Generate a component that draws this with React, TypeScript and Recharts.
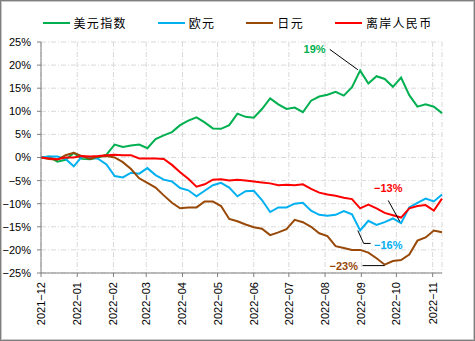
import React from "react";
import {
  LineChart,
  Line,
  XAxis,
  YAxis,
  CartesianGrid,
  Legend,
  ReferenceLine,
  ReferenceDot,
} from "recharts";

const dates = [
  "2021-12-01", "2021-12-08", "2021-12-15", "2021-12-22", "2021-12-29",
  "2022-01-05", "2022-01-12", "2022-01-19", "2022-01-26",
  "2022-02-02", "2022-02-09", "2022-02-16", "2022-02-23",
  "2022-03-02", "2022-03-09", "2022-03-16", "2022-03-23", "2022-03-30",
  "2022-04-06", "2022-04-13", "2022-04-20", "2022-04-27",
  "2022-05-04", "2022-05-11", "2022-05-18", "2022-05-25",
  "2022-06-01", "2022-06-08", "2022-06-15", "2022-06-22", "2022-06-29",
  "2022-07-06", "2022-07-13", "2022-07-20", "2022-07-27",
  "2022-08-03", "2022-08-10", "2022-08-17", "2022-08-24", "2022-08-31",
  "2022-09-07", "2022-09-14", "2022-09-21", "2022-09-28",
  "2022-10-05", "2022-10-12", "2022-10-19", "2022-10-26",
  "2022-11-02", "2022-11-09",
];

const usdIndex = [
  0, 0.2, -0.9, -0.5, 1.0,
  -0.3, -0.4, 0, 0.6,
  2.8, 2.3, 2.6, 2.8,
  2.0, 4.0, 4.8, 5.5, 7.0,
  8.0, 8.7, 7.6, 6.3,
  6.2, 7.0, 9.5, 8.8,
  8.6, 10.5, 12.8, 11.5, 10.5,
  10.8, 9.8, 12.3, 13.2,
  13.6, 14.2, 13.4, 15.2, 18.8,
  16.0, 17.6, 17.0, 15.3,
  17.3, 13.5, 11.0, 11.5,
  11.0, 9.6,
];

const euro = [
  0, 0.2, 0.2, -0.3, -1.9,
  0.2, 0, -0.3, -1.5,
  -4.0, -4.3, -3.3, -3.5,
  -2.3, -3.8, -4.8, -5.2, -6.6,
  -7.1, -8.4, -7.2, -6.0,
  -5.5, -6.5, -8.4, -7.3,
  -7.2, -9.2, -11.8, -10.8, -10.8,
  -10.0, -9.8, -11.5, -12.4,
  -12.6, -12.4, -11.6, -12.3, -15.8,
  -13.7, -14.6, -14.0, -13.2,
  -14.2, -10.8, -9.8, -8.9,
  -9.5, -8.0,
];

const yen = [
  0, -0.3, -0.5, 0.5, 1.0,
  0.3, -0.3, 0.2, 0.3,
  0, -1.0, -2.5, -4.5,
  -5.5, -6.5, -8.2, -9.8, -11.0,
  -10.8, -10.8, -9.5, -9.5,
  -10.5, -13.3, -13.8, -14.5,
  -15.1, -15.4, -16.8, -16.2, -15.5,
  -13.5, -14.0, -15.0, -16.4,
  -17.0, -19.2, -19.6, -20.0, -20.0,
  -20.6, -21.8, -23.2, -22.4,
  -22.2, -21.0, -18.0, -17.3,
  -15.8, -16.2,
];

const cnh = [
  0, -0.2, -0.4, 0, 0,
  0.3, 0.2, 0.3, 0.5,
  0.6, 0.5, 0.5, -0.2,
  -0.2, -0.2, -0.3, -1.6, -3.2,
  -4.6, -6.3, -5.8, -4.8,
  -4.7, -5.0, -4.8, -5.0,
  -5.2, -5.4, -5.6, -6.0, -5.9,
  -6.0, -5.8, -6.8, -7.6,
  -8.0, -8.3, -8.7, -9.0, -11.0,
  -10.2, -11.0, -12.0, -12.5,
  -13.0, -11.0, -10.5, -10.3,
  -11.5, -8.9,
];

const monthTicks = [
  "2021-12-01", "2022-01-01", "2022-02-01", "2022-03-01", "2022-04-01",
  "2022-05-01", "2022-06-01", "2022-07-01", "2022-08-01", "2022-09-01",
  "2022-10-01", "2022-11-01",
];

const yTicks = [-25, -20, -15, -10, -5, 0, 5, 10, 15, 20, 25];

const seriesNames = ["美元指数", "欧元", "日元", "离岸人民币"];
const seriesKeys = ["usd", "eur", "jpy", "cnh"];
const seriesColors = ["#00B050", "#00B0F0", "#984807", "#FF0000"];

const ts = (s: string) => Date.parse(s + "T00:00:00Z");

const data = dates.map((d, i) => ({
  t: ts(d),
  usd: usdIndex[i],
  eur: euro[i],
  jpy: yen[i],
  cnh: cnh[i],
}));

const MINUS = "\u2212";

const fmtPct = (v: number) => (v < 0 ? MINUS + Math.abs(v) : String(v)) + "%";

const fmtMonth = (t: number) => {
  const d = new Date(t);
  const y = d.getUTCFullYear();
  const m = String(d.getUTCMonth() + 1).padStart(2, "0");
  return `${y}${MINUS}${m}`;
};

const XTick = (props: any) => {
  const { x, y, payload } = props;
  return (
    <text
      transform={`translate(${x + 4},${y + 3}) rotate(-90)`}
      textAnchor="end"
      fontSize={11}
      fontFamily="'Liberation Sans', Arial, sans-serif"
      fill="#000"
    >
      {fmtMonth(payload.value)}
    </text>
  );
};

const LegendContent = () => (
  <div
    style={{
      display: "flex",
      justifyContent: "center",
      alignItems: "center",
      gap: 31,
      fontFamily: "'Noto Sans CJK SC', sans-serif",
      fontSize: 12,
      letterSpacing: 1.3,
      color: "#000",
      lineHeight: "17px",
    }}
  >
    {seriesNames.map((n, i) => (
      <div key={n} style={{ display: "flex", alignItems: "center" }}>
        <span
          style={{
            display: "inline-block",
            width: 27,
            height: 2,
            background: seriesColors[i],
            marginRight: 4,
          }}
        />
        <span>{n}</span>
      </div>
    ))}
  </div>
);

const labelFont = "'Liberation Sans', Arial, sans-serif";

export default function App() {
  return (
    <div style={{ position: "absolute", left: 0, top: 0, width: 475, height: 341 }}>
      <div
        style={{
          position: "absolute",
          left: 0,
          top: 0,
          width: 475,
          height: 341,
          boxSizing: "border-box",
          border: "1px solid #7f7f7f",
          boxShadow: "inset 0 0 0 1px #c8c8c8",
          background: "#fff",
        }}
      />
      <div style={{ position: "absolute", left: 0, top: 0 }}>
        <LineChart
          width={475}
          height={341}
          data={data}
          margin={{ top: 42, right: 33, bottom: 0, left: 0 }}
        >
          <CartesianGrid stroke="#d9d9d9" strokeDasharray="5 2 1 2" />
          <XAxis
            dataKey="t"
            type="number"
            scale="time"
            domain={[ts("2021-12-01"), ts("2022-11-09")]}
            ticks={monthTicks.map(ts)}
            tick={<XTick />}
            tickSize={4}
            tickMargin={2}
            height={68}
            stroke="#7f7f7f"
            interval={0}
          />
          <YAxis
            type="number"
            domain={[-25, 25]}
            ticks={yTicks}
            tickFormatter={fmtPct}
            width={41}
            tickSize={4}
            tickMargin={6}
            stroke="#7f7f7f"
            tick={{ fill: "#000", fontSize: 11, fontFamily: labelFont }}
            interval={0}
          />
          <Legend
            layout="horizontal"
            align="center"
            verticalAlign="middle"
            wrapperStyle={{ top: 14, left: 0, width: 475 }}
            content={<LegendContent />}
          />
          {seriesKeys.map((k, i) => (
            <Line
              key={k}
              dataKey={k}
              name={seriesNames[i]}
              stroke={seriesColors[i]}
              strokeWidth={2}
              dot={false}
              type="linear"
              isAnimationActive={false}
            />
          ))}
          <ReferenceLine
            segment={[
              { x: ts("2022-08-05"), y: 23.4 },
              { x: ts("2022-08-29"), y: 19.0 },
            ]}
            stroke="#000"
            strokeWidth={1}
            ifOverflow="visible"
          />
          <ReferenceLine
            segment={[
              { x: ts("2022-09-24"), y: -9.3 },
              { x: ts("2022-10-04"), y: -13.9 },
            ]}
            stroke="#000"
            strokeWidth={1}
            ifOverflow="visible"
          />
          <ReferenceLine
            segment={[
              { x: ts("2022-08-29"), y: -15.8 },
              { x: ts("2022-09-03"), y: -18.6 },
            ]}
            stroke="#000"
            strokeWidth={1}
            ifOverflow="visible"
          />
          <ReferenceLine
            segment={[
              { x: ts("2022-09-03"), y: -18.6 },
              { x: ts("2022-09-09"), y: -18.6 },
            ]}
            stroke="#000"
            strokeWidth={1}
            ifOverflow="visible"
          />
          <ReferenceLine
            segment={[
              { x: ts("2022-09-02"), y: -23.4 },
              { x: ts("2022-09-21"), y: -23.4 },
            ]}
            stroke="#000"
            strokeWidth={1}
            ifOverflow="visible"
          />
          <ReferenceDot
            x={ts("2022-07-23")}
            y={23.4}
            r={1}
            fill="none"
            stroke="none"
            ifOverflow="visible"
            label={{ value: "19%", position: "center", fill: seriesColors[0], fontSize: 11, fontWeight: "bold", fontFamily: labelFont }}
          />
          <ReferenceDot
            x={ts("2022-09-24")}
            y={-6.7}
            r={1}
            fill="none"
            stroke="none"
            ifOverflow="visible"
            label={{ value: MINUS + "13%", position: "center", fill: seriesColors[3], fontSize: 11, fontWeight: "bold", fontFamily: labelFont }}
          />
          <ReferenceDot
            x={ts("2022-09-24")}
            y={-19.0}
            r={1}
            fill="none"
            stroke="none"
            ifOverflow="visible"
            label={{ value: MINUS + "16%", position: "center", fill: seriesColors[1], fontSize: 11, fontWeight: "bold", fontFamily: labelFont }}
          />
          <ReferenceDot
            x={ts("2022-08-17")}
            y={-23.6}
            r={1}
            fill="none"
            stroke="none"
            ifOverflow="visible"
            label={{ value: MINUS + "23%", position: "center", fill: seriesColors[2], fontSize: 11, fontWeight: "bold", fontFamily: labelFont }}
          />
        </LineChart>
      </div>
    </div>
  );
}
